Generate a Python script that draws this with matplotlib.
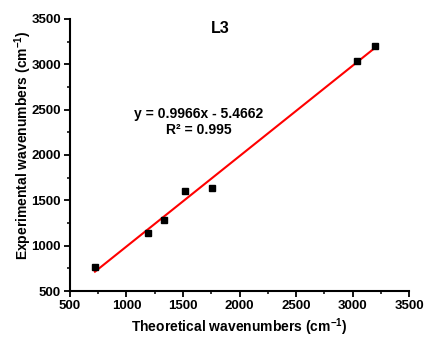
import matplotlib.pyplot as plt
from matplotlib.ticker import MultipleLocator

# theoretical vs experimental wavenumbers (cm-1)
theoretical = [721, 1190, 1332, 1518, 1757, 3037, 3200]
experimental = [770, 1135, 1278, 1600, 1640, 3038, 3198]

slope = 0.9966
intercept = -5.4662
r2 = 0.995

plt.rcParams['font.family'] = ['Liberation Sans', 'DejaVu Sans']
plt.rcParams['font.weight'] = 'bold'
plt.rcParams['mathtext.fontset'] = 'custom'
plt.rcParams['mathtext.rm'] = 'Liberation Sans'
plt.rcParams['mathtext.bf'] = 'Liberation Sans:bold'

fig = plt.figure(figsize=(4.24, 3.38), dpi=100)
ax = fig.add_axes([0.165, 0.139, 0.8, 0.805])

xfit = [min(theoretical), max(theoretical)]
yfit = [slope * x + intercept for x in xfit]
ax.plot(xfit, yfit, color='red', lw=1.5, zorder=2)
ax.plot(theoretical, experimental, 's', color='black', ms=5, zorder=3)

ax.set_xlim(500, 3500)
ax.set_ylim(500, 3500)
ax.xaxis.set_major_locator(MultipleLocator(500))
ax.yaxis.set_major_locator(MultipleLocator(500))
ax.xaxis.set_minor_locator(MultipleLocator(250))
ax.yaxis.set_minor_locator(MultipleLocator(250))

for side in ['top', 'right']:
    ax.spines[side].set_visible(False)
for side in ['left', 'bottom']:
    ax.spines[side].set_linewidth(1.5)

ax.tick_params(which='major', direction='out', length=4, width=1.3, labelsize=9.5, pad=2.5)
ax.tick_params(which='minor', direction='out', length=2.5, width=1.1)
for lab in ax.get_xticklabels() + ax.get_yticklabels():
    lab.set_fontweight('bold')

ax.set_xlabel('Theoretical wavenumbers (cm$^{\\mathbf{-1}}$)', fontsize=10, fontweight='bold')
ax.set_ylabel('Experimental wavenumbers (cm$^{\\mathbf{-1}}$)', fontsize=10, fontweight='bold')
ax.xaxis.set_label_coords(0.5, -0.095)
ax.yaxis.set_label_coords(-0.106, 0.537)

ax.text(1827, 3390, 'L3', fontsize=11.5, fontweight='bold', ha='center', va='center')
ax.text(1640, 2365, 'y = %.4fx - %.4f\nR² = %.3f' % (slope, -intercept, r2),
        fontsize=10, fontweight='bold', ha='center', va='center', linespacing=1.15)

fig.savefig('out.png', dpi=100)
